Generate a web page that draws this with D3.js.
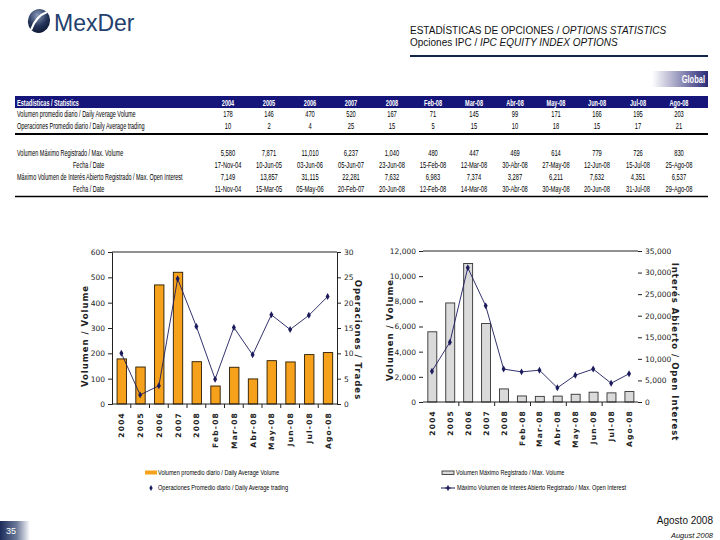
<!DOCTYPE html>
<html>
<head>
<meta charset="utf-8">
<script src="https://cdn.jsdelivr.net/npm/d3@7"></script>
<style>
  html, body { margin: 0; padding: 0; background: #fff; }
  svg { display: block; }
  .narrow { font-family: "Liberation Sans", Arial, sans-serif; }
  .verd { font-family: "DejaVu Sans", Verdana, sans-serif; }
</style>
</head>
<body>
<svg id="page" width="720" height="540"></svg>
<script>
// ─── Data ──────────────────────────────────────────────────────
const categories = ["2004", "2005", "2006", "2007", "2008", "Feb-08", "Mar-08", "Abr-08", "May-08", "Jun-08", "Jul-08", "Ago-08"];
const avgVolume = [178, 146, 470, 520, 167, 71, 145, 99, 171, 166, 195, 203];
const avgTrades = [10, 1.8, 3.6, 24.7, 15.3, 4.9, 15.1, 9.7, 17.6, 14.7, 17.5, 21.2];
const maxVolume = [5580, 7871, 11010, 6237, 1040, 480, 447, 469, 614, 779, 726, 830];
const maxOpenInterest = [7149, 13857, 31115, 22281, 7632, 6983, 7374, 3287, 6211, 7632, 4351, 6537];

const tableTrades = ["10", "2", "4", "25", "15", "5", "15", "10", "18", "15", "17", "21"];
const maxVolumeDates = ["17-Nov-04", "10-Jun-05", "03-Jun-06", "05-Jun-07", "23-Jun-08", "15-Feb-08", "12-Mar-08", "30-Abr-08", "27-May-08", "12-Jun-08", "15-Jul-08", "25-Ago-08"];
const maxOIDates = ["11-Nov-04", "15-Mar-05", "05-May-06", "20-Feb-07", "20-Jun-08", "12-Feb-08", "14-Mar-08", "30-Abr-08", "30-May-08", "20-Jun-08", "31-Jul-08", "29-Ago-08"];

const leftTicks = [0, 100, 200, 300, 400, 500, 600];
const tradeTicks = [0, 5, 10, 15, 20, 25, 30];
const volTicks = [0, 2000, 4000, 6000, 8000, 10000, 12000];
const oiTicks = [0, 5000, 10000, 15000, 20000, 25000, 30000, 35000];

(() => {
  const svg = d3.select("#page");
  const NAVY = "#16167a";
  const LINE = "#1c1c5c";
  const defs = svg.append("defs");

  // squeeze text horizontally (narrow face look) around its anchor point
  function squeeze(sel, f) {
    sel.each(function () {
      const x = +this.getAttribute("x"), y = +this.getAttribute("y");
      this.removeAttribute("x");
      this.removeAttribute("y");
      this.setAttribute("transform", `translate(${x},${y}) scale(${f},1)`);
    });
  }

  // ─── Header ──────────────────────────────────────────────────
  const lg = defs.append("radialGradient").attr("id", "logoGrad").attr("cx", "35%").attr("cy", "30%").attr("r", "75%");
  lg.append("stop").attr("offset", "0%").attr("stop-color", "#8a9ab8");
  lg.append("stop").attr("offset", "60%").attr("stop-color", "#24345a");
  lg.append("stop").attr("offset", "100%").attr("stop-color", "#0e1a36");
  svg.append("ellipse").attr("cx", 39).attr("cy", 21).attr("rx", 11).attr("ry", 12)
    .attr("transform", "rotate(20,39,21)").attr("fill", "url(#logoGrad)");
  svg.append("path").attr("d", "M31,30 Q36,16 47,12").attr("fill", "none")
    .attr("stroke", "#fff").attr("stroke-width", 2.2);
  svg.append("text").attr("x", 54).attr("y", 31).attr("font-family", "Liberation Sans, Arial, sans-serif")
    .attr("font-size", 23).attr("fill", "#23406e").text("MexDer");

  const title = svg.append("g").attr("font-family", "Liberation Sans, Arial, sans-serif")
    .attr("font-size", 10).attr("fill", "#111");
  const t1 = title.append("text").attr("x", 410).attr("y", 34);
  t1.append("tspan").text("ESTADÍSTICAS DE OPCIONES / ");
  t1.append("tspan").attr("font-style", "italic").text("OPTIONS STATISTICS");
  const t2 = title.append("text").attr("x", 410).attr("y", 46);
  t2.append("tspan").text("Opciones IPC / ");
  t2.append("tspan").attr("font-style", "italic").text("IPC EQUITY INDEX OPTIONS");
  svg.append("line").attr("x1", 410).attr("x2", 708).attr("y1", 56).attr("y2", 56)
    .attr("stroke", "#15254a").attr("stroke-width", 2);

  const gg = defs.append("linearGradient").attr("id", "globalGrad");
  gg.append("stop").attr("offset", "0%").attr("stop-color", "#fff");
  gg.append("stop").attr("offset", "100%").attr("stop-color", "#2a2a78");
  svg.append("rect").attr("x", 652).attr("y", 71).attr("width", 56).attr("height", 16).attr("fill", "url(#globalGrad)");
  svg.append("text").attr("class", "narrow").attr("x", 705).attr("y", 83).attr("text-anchor", "end")
    .attr("font-size", 10).attr("font-weight", "bold").attr("fill", "#fff").text("Global")
    .call(squeeze, 0.75);

  // ─── Table ───────────────────────────────────────────────────
  const colX = (i) => 228 + 41 * i;
  const tbl = svg.append("g").attr("class", "narrow").attr("font-size", 9).attr("fill", "#000");
  tbl.append("rect").attr("x", 15).attr("y", 96).attr("width", 693).attr("height", 12).attr("fill", NAVY);
  tbl.append("text").attr("x", 17).attr("y", 105.5).attr("fill", "#fff").attr("font-weight", "bold")
    .text("Estadísticas / Statistics").call(squeeze, 0.62);
  tbl.selectAll(".hdr").data(categories).join("text")
    .attr("x", (d, i) => colX(i)).attr("y", 105.5).attr("text-anchor", "middle")
    .attr("fill", "#fff").attr("font-weight", "bold").text((d) => d).call(squeeze, 0.62);

  const rows = [
    { label: "Volumen promedio diario / Daily Average Volume", x: 17, y: 117, vals: avgVolume.map(String) },
    { label: "Operaciones Promedio diario / Daily Average trading", x: 17, y: 129, vals: tableTrades },
    { label: "Volumen Máximo Registrado / Max. Volume", x: 17, y: 156, vals: maxVolume.map(d3.format(",")) },
    { label: "Fecha / Date", x: 73, y: 168, vals: maxVolumeDates },
    { label: "Máximo Volumen de Interés Abierto Registrado / Max. Open Interest", x: 17, y: 180, vals: maxOpenInterest.map(d3.format(",")) },
    { label: "Fecha / Date", x: 73, y: 192, vals: maxOIDates }
  ];
  rows.forEach((r) => {
    tbl.append("text").attr("x", r.x).attr("y", r.y).text(r.label).call(squeeze, 0.61);
    r.vals.forEach((v, i) => {
      tbl.append("text").attr("x", colX(i)).attr("y", r.y).attr("text-anchor", "middle").text(v).call(squeeze, 0.64);
    });
  });
  tbl.append("line").attr("x1", 15).attr("x2", 708).attr("y1", 134).attr("y2", 134).attr("stroke", "#000").attr("stroke-width", 2);
  tbl.append("line").attr("x1", 15).attr("x2", 708).attr("y1", 196.5).attr("y2", 196.5).attr("stroke", "#000").attr("stroke-width", 1.5);

  // ─── Chart helper ────────────────────────────────────────────
  function drawChart(o) {
    const g = svg.append("g");
    const x = d3.scaleBand().domain(categories).range([o.x0, o.x1]);
    const yL = d3.scaleLinear().domain([0, d3.max(o.leftTicks)]).range([o.yb, o.yt]);
    const yR = d3.scaleLinear().domain([0, d3.max(o.rightTicks)]).range([o.yb, o.yt]);

    // top gridline
    g.append("line").attr("x1", o.x0).attr("x2", o.x1).attr("y1", o.yt).attr("y2", o.yt).attr("stroke", "#222");

    const ax = g.append("g").attr("class", "verd").attr("font-size", 7.5);
    const la = ax.append("g").attr("transform", `translate(${o.x0},0)`)
      .call(d3.axisLeft(yL).tickValues(o.leftTicks).tickSize(4).tickPadding(3).tickFormat(o.leftFmt));
    const ra = ax.append("g").attr("transform", `translate(${o.x1},0)`)
      .call(d3.axisRight(yR).tickValues(o.rightTicks).tickSize(4).tickPadding(3).tickFormat(o.rightFmt));
    [la, ra].forEach((a) => {
      a.selectAll("text").attr("fill", "#222");
      a.selectAll("line").attr("stroke", "#222");
      a.attr("font-family", null).attr("font-size", null);
      a.select(".domain").attr("stroke", o.axisLines ? "#222" : "none");
    });

    // bars
    g.append("g").selectAll("rect").data(o.bars).join("rect")
      .attr("x", (d, i) => x(categories[i]) + x.bandwidth() * 0.27)
      .attr("width", x.bandwidth() * 0.5)
      .attr("y", (d) => yL(d)).attr("height", (d) => yL(0) - yL(d))
      .attr("fill", o.barFill).attr("stroke", o.barStroke).attr("stroke-width", 0.9);

    // x axis
    g.append("line").attr("x1", o.x0).attr("x2", o.x1).attr("y1", o.yb).attr("y2", o.yb).attr("stroke", "#222");
    const bounds = d3.range(1, categories.length).filter((i) => i % o.tickEvery === 0);
    g.append("g").selectAll("line").data(bounds).join("line")
      .attr("x1", (i) => o.x0 + x.step() * i).attr("x2", (i) => o.x0 + x.step() * i)
      .attr("y1", o.yb).attr("y2", o.yb + 4).attr("stroke", "#222");
    g.append("g").attr("class", "verd").attr("font-size", 7.5).attr("font-weight", "bold").attr("fill", "#222")
      .attr("letter-spacing", 1.2)
      .selectAll("text").data(categories).join("text")
      .attr("transform", (d) => `translate(${x(d) + x.bandwidth() / 2 + 3},${o.yb + 8}) rotate(-90)`)
      .attr("text-anchor", "end").text((d) => d);

    // line
    const pts = o.line.map((v, i) => [x(categories[i]) + x.bandwidth() / 2, yR(v)]);
    g.append("path").attr("d", d3.line()(pts)).attr("fill", "none").attr("stroke", LINE).attr("stroke-width", 0.9);
    g.append("g").selectAll("path").data(pts).join("path")
      .attr("transform", (d) => `translate(${d[0]},${d[1]})`)
      .attr("d", d3.symbol(d3.symbolDiamond, 14)).attr("fill", LINE);

    // axis titles
    const tt = g.append("g").attr("class", "verd").attr("font-size", 8.5).attr("font-weight", "bold")
      .attr("fill", "#222").attr("letter-spacing", 1);
    tt.append("text").attr("transform", `translate(${o.lt[0]},${o.lt[1]}) rotate(-90)`)
      .attr("text-anchor", "middle").text(o.leftTitle);
    tt.append("text").attr("transform", `translate(${o.rt[0]},${o.rt[1]}) rotate(90)`)
      .attr("text-anchor", "middle").text(o.rightTitle);
  }

  // ─── Left chart: daily average ───────────────────────────────
  drawChart({
    x0: 112, x1: 337, yt: 252, yb: 404,
    leftTicks, rightTicks: tradeTicks,
    leftFmt: d3.format("d"), rightFmt: d3.format("d"),
    bars: avgVolume, line: avgTrades,
    barFill: "#f5a11c", barStroke: "#2a1a00",
    tickEvery: 1, axisLines: true,
    leftTitle: "Volumen / Volume", lt: [88, 336],
    rightTitle: "Operaciones / Trades", rt: [355, 340]
  });

  // ─── Right chart: maximums ───────────────────────────────────
  drawChart({
    x0: 423, x1: 638, yt: 251, yb: 402,
    leftTicks: volTicks, rightTicks: oiTicks,
    leftFmt: d3.format(","), rightFmt: d3.format(","),
    bars: maxVolume, line: maxOpenInterest,
    barFill: "#dadada", barStroke: "#333",
    tickEvery: 2, axisLines: false,
    leftTitle: "Volumen / Volume", lt: [393, 330],
    rightTitle: "Interés Abierto / Open Interest", rt: [672, 352]
  });

  // ─── Legends ─────────────────────────────────────────────────
  const leg = svg.append("g").attr("class", "narrow").attr("font-size", 8).attr("fill", "#000");
  leg.append("rect").attr("x", 145).attr("y", 470.5).attr("width", 12).attr("height", 4).attr("fill", "#f5a11c");
  leg.append("text").attr("x", 158).attr("y", 475).text("Volumen promedio diario / Daily Average Volume").call(squeeze, 0.7);
  leg.append("path").attr("transform", "translate(151,488)").attr("d", d3.symbol(d3.symbolDiamond, 10)).attr("fill", LINE);
  leg.append("text").attr("x", 158).attr("y", 490).text("Operaciones Promedio diario / Daily Average trading").call(squeeze, 0.7);

  leg.append("rect").attr("x", 442).attr("y", 471).attr("width", 12).attr("height", 3.5)
    .attr("fill", "#dadada").attr("stroke", "#222").attr("stroke-width", 0.8);
  leg.append("text").attr("x", 456).attr("y", 475).text("Volumen Máximo Registrado / Max. Volume").call(squeeze, 0.7);
  leg.append("line").attr("x1", 441).attr("x2", 455).attr("y1", 488).attr("y2", 488).attr("stroke", LINE);
  leg.append("path").attr("transform", "translate(448,488)").attr("d", d3.symbol(d3.symbolCross, 14)).attr("fill", LINE);
  leg.append("text").attr("x", 457).attr("y", 490).text("Máximo Volumen de Interés Abierto Registrado / Max. Open Interest").call(squeeze, 0.7);

  // ─── Footer ──────────────────────────────────────────────────
  const fg = defs.append("linearGradient").attr("id", "footGrad");
  fg.append("stop").attr("offset", "0%").attr("stop-color", "#1c2c5a");
  fg.append("stop").attr("offset", "55%").attr("stop-color", "#6a7898");
  fg.append("stop").attr("offset", "100%").attr("stop-color", "#fff");
  svg.append("rect").attr("x", 0).attr("y", 521).attr("width", 30).attr("height", 19).attr("fill", "url(#footGrad)");
  svg.append("text").attr("x", 6).attr("y", 534).attr("font-family", "Liberation Sans, Arial, sans-serif")
    .attr("font-size", 9).attr("fill", "#fff").text("35");
  svg.append("text").attr("x", 713).attr("y", 524).attr("text-anchor", "end")
    .attr("font-family", "Liberation Sans, Arial, sans-serif").attr("font-size", 10).attr("fill", "#111").text("Agosto 2008");
  svg.append("text").attr("x", 713).attr("y", 538).attr("text-anchor", "end").attr("font-style", "italic")
    .attr("font-family", "Liberation Sans, Arial, sans-serif").attr("font-size", 7.5).attr("fill", "#111").text("August 2008");
})();
</script>
</body>
</html>
